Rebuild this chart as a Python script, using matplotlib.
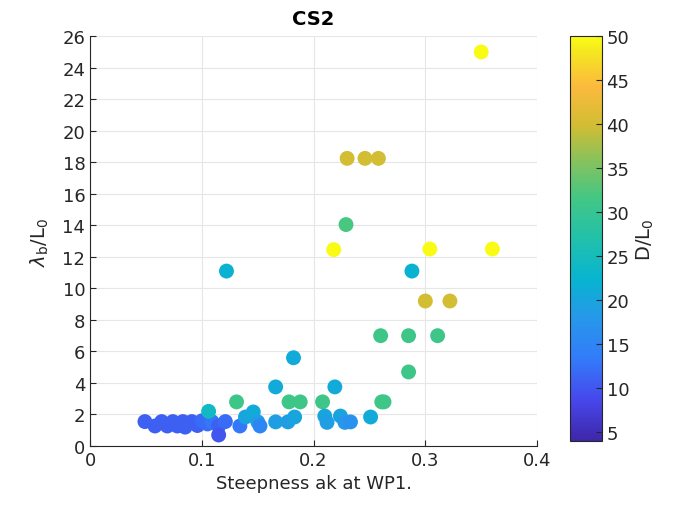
import numpy as np
import matplotlib
matplotlib.use('Agg')
import matplotlib.pyplot as plt
from matplotlib.colors import LinearSegmentedColormap

# --- dados (CS2) ---
steepness = [0.049, 0.058, 0.064, 0.069, 0.074, 0.078, 0.083, 0.085, 0.091, 0.096,
             0.100, 0.105, 0.109, 0.115, 0.115, 0.121, 0.106,
             0.131, 0.134, 0.139, 0.146, 0.150, 0.152, 0.166, 0.166, 0.177, 0.183,
             0.182, 0.178, 0.188, 0.208, 0.210, 0.212, 0.219, 0.224, 0.228, 0.233,
             0.251, 0.261, 0.263,
             0.122, 0.288, 0.285, 0.285, 0.260, 0.311, 0.300, 0.322,
             0.218, 0.304, 0.360, 0.229, 0.230, 0.246, 0.258, 0.350]
lambda_b = [1.55, 1.27, 1.55, 1.27, 1.55, 1.27, 1.55, 1.20, 1.55, 1.30,
            1.60, 1.40, 1.55, 1.27, 0.70, 1.55, 2.20,
            2.80, 1.27, 1.84, 2.16, 1.53, 1.27, 1.53, 3.75, 1.53, 1.84,
            5.60, 2.80, 2.80, 2.80, 1.90, 1.50, 3.75, 1.90, 1.50, 1.53,
            1.84, 2.80, 2.80,
            11.1, 11.1, 7.0, 4.7, 7.0, 7.0, 9.2, 9.2,
            12.46, 12.5, 12.5, 14.05, 18.25, 18.25, 18.25, 25.0]
D_L0 = [11, 11, 11, 11, 11, 11, 11, 11, 11, 11,
        12, 12, 13, 11, 10, 12, 24,
        31, 13, 20, 21, 19, 15, 19, 21, 19, 20,
        21, 31, 31, 31, 20, 19, 21, 20, 18, 17,
        21, 31, 31,
        22, 22, 31, 31, 31, 31, 40, 40,
        50, 50, 50, 32, 40, 40, 40, 50]

# parula aproximado (MATLAB)
parula_pts = [(0.00, (0.2422, 0.1504, 0.6603)),
              (0.10, (0.2803, 0.2782, 0.9221)),
              (0.20, (0.2000, 0.4800, 0.9800)),
              (0.30, (0.1540, 0.5902, 0.9218)),
              (0.40, (0.0297, 0.7082, 0.8163)),
              (0.50, (0.1300, 0.7550, 0.6700)),
              (0.60, (0.2600, 0.7800, 0.5200)),
              (0.70, (0.5500, 0.7600, 0.3500)),
              (0.78, (0.8200, 0.7400, 0.2000)),
              (0.88, (0.9900, 0.7300, 0.2400)),
              (0.95, (0.9600, 0.8800, 0.1400)),
              (1.00, (0.9769, 0.9839, 0.0805))]
parula = LinearSegmentedColormap.from_list('parula', parula_pts)

fig = plt.figure(figsize=(6.73, 5.10), dpi=100)
ax = fig.add_axes([0.134, 0.1235, 0.664, 0.8035])
cax = fig.add_axes([0.847, 0.133, 0.047, 0.794])

sc = ax.scatter(steepness, lambda_b, c=D_L0, cmap=parula, vmin=4, vmax=50,
                s=115, edgecolors='none', zorder=3)

ax.set_xlim(0, 0.4)
ax.set_ylim(0, 26)
ax.set_xticks([0, 0.1, 0.2, 0.3, 0.4])
ax.set_xticklabels(['0', '0.1', '0.2', '0.3', '0.4'])
ax.set_yticks(np.arange(0, 27, 2))
ax.grid(True, color='0.9', linewidth=0.8, zorder=0)
for s in ['top', 'right']:
    ax.spines[s].set_visible(False)
for s in ['left', 'bottom']:
    ax.spines[s].set_color('0.15')
ax.tick_params(direction='in', labelsize=13, colors='0.15', length=4)
ax.set_xlabel('Steepness ak at WP1.', fontsize=13, color='0.15')
ax.set_ylabel(r'$\lambda_\mathrm{b}/\mathrm{L}_0$', fontsize=14, color='0.15', labelpad=8)
ax.set_title('CS2', fontsize=14, fontweight='bold', pad=9)

cb = fig.colorbar(sc, cax=cax)
cb.set_ticks(np.arange(5, 51, 5))
cb.ax.tick_params(direction='in', labelsize=13, colors='0.15', length=4)
cb.outline.set_edgecolor('0.15')
cb.set_label(r'D/L$_0$', fontsize=14, color='0.15')

plt.savefig('out.png', dpi=100)
